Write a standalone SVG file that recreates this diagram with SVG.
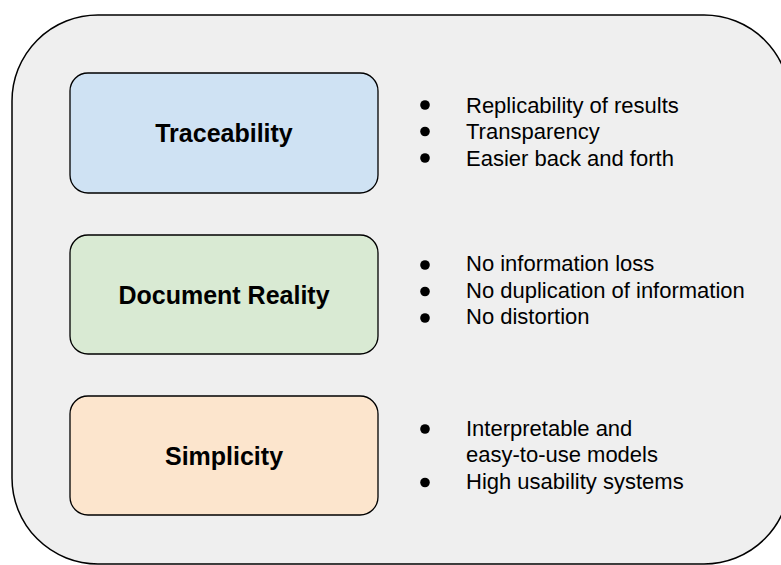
<svg xmlns="http://www.w3.org/2000/svg" width="781" height="565" viewBox="0 0 781 565">
<style>
.frame{fill:#efefef;stroke:#000;stroke-width:1.5}
.box{stroke:#000;stroke-width:1.3}
.title{font-family:"Liberation Sans",Arial,sans-serif;font-weight:bold;font-size:25px;fill:#000;text-anchor:middle}
.item{font-family:"Liberation Sans",Arial,sans-serif;font-size:22px;fill:#000}
.dot{fill:#000}
</style>
<rect id="frame" class="frame" x="12" y="15" width="778" height="549" rx="86" ry="86"/>
<g id="traceability">
<rect class="box" x="70" y="73" width="308" height="120" rx="18" fill="#cfe2f3"/>
<text class="title" x="224" y="142">Traceability</text>
</g>
<g id="traceability-list">
<circle class="dot" cx="425" cy="105" r="4.8"/>
<circle class="dot" cx="425" cy="131.5" r="4.8"/>
<circle class="dot" cx="425" cy="158" r="4.8"/>
<text class="item" x="466" y="112.5">Replicability of results</text>
<text class="item" x="466" y="139">Transparency</text>
<text class="item" x="466" y="165.5">Easier back and forth</text>
</g>
<g id="document-reality">
<rect class="box" x="70" y="235" width="308" height="119" rx="18" fill="#d9ead3"/>
<text class="title" x="224" y="303.5">Document Reality</text>
</g>
<g id="document-reality-list">
<circle class="dot" cx="425" cy="265" r="4.8"/>
<circle class="dot" cx="425" cy="291.5" r="4.8"/>
<circle class="dot" cx="425" cy="318" r="4.8"/>
<text class="item" x="466" y="271">No information loss</text>
<text class="item" x="466" y="297.5">No duplication of information</text>
<text class="item" x="466" y="324">No distortion</text>
</g>
<g id="simplicity">
<rect class="box" x="70" y="396" width="308" height="119" rx="18" fill="#fce5cd"/>
<text class="title" x="224" y="464.5">Simplicity</text>
</g>
<g id="simplicity-list">
<circle class="dot" cx="425" cy="429" r="4.8"/>
<circle class="dot" cx="425" cy="482.5" r="4.8"/>
<text class="item" x="466" y="435.5">Interpretable and</text>
<text class="item" x="466" y="462">easy-to-use models</text>
<text class="item" x="466" y="488.5">High usability systems</text>
</g>
<g id="connectors"/>
</svg>
